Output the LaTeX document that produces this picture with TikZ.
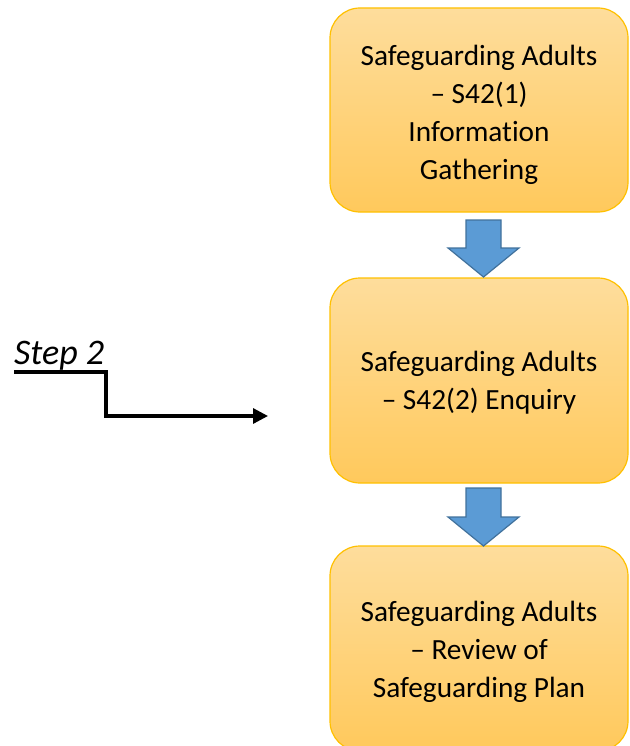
\documentclass[tikz,border=0pt]{standalone}
\usepackage{fontspec}
\setmainfont{Carlito}[RawFeature=-liga]
\usetikzlibrary{arrows.meta}
\definecolor{boxtop}{HTML}{FEDD9C}
\definecolor{boxbot}{HTML}{FFC95C}
\definecolor{boxline}{HTML}{FFC000}
\definecolor{arrfill}{HTML}{5B9BD5}
\definecolor{arrline}{HTML}{41719C}
\newcommand{\boxtext}[2]{\raisebox{#1}[\height][\depth]{\begin{tabular}{@{}c@{}}#2\end{tabular}}}
\tikzset{
  stagebox/.style={draw=boxline, line width=1.2pt, rounded corners=30pt,
    top color=boxtop, bottom color=boxbot,
    minimum width=298pt, minimum height=#1, align=center,
    font=\fontsize{29.3}{38}\selectfont, inner sep=0pt},
  downarrow/.style={draw=arrline, fill=arrfill, line width=1.2pt, line join=miter},
  steparrow/.style={line width=3.2pt, -{Triangle[length=15pt,width=15pt]}}
}
\begin{document}
\begin{tikzpicture}[x=1pt,y=-1pt]
\useasboundingbox (0,0) rectangle (629,746);
\node[stagebox=204pt] (b1) at (479,110) {\boxtext{-5pt}{Safeguarding Adults\\– S42(1)\\Information\\Gathering}};
\node[stagebox=205pt] (b2) at (479,380.5) {\boxtext{-2pt}{Safeguarding Adults\\– S42(2) Enquiry}};
\node[stagebox=205pt] (b3) at (479,648.5) {\boxtext{-3pt}{Safeguarding Adults\\– Review of\\Safeguarding Plan}};
% down arrows
\draw[downarrow] (466,220) -- (501,220) -- (501,248) -- (519,248) -- (483.5,277)
  -- (448,248) -- (466,248) -- cycle;
\draw[downarrow] (466,488) -- (501,488) -- (501,517) -- (519,517) -- (483.5,546)
  -- (448,517) -- (466,517) -- cycle;
% step 2
\node[anchor=base west, inner sep=0pt, font=\fontsize{36}{40}\selectfont\itshape] (step) at (14,364) {Step 2};
\coordinate (u0) at (14,372);
\coordinate (u1) at (106,372);
\coordinate (tip) at (268,416);
\draw[steparrow] (u0) -- (u1) |- (tip);
\end{tikzpicture}
\end{document}
